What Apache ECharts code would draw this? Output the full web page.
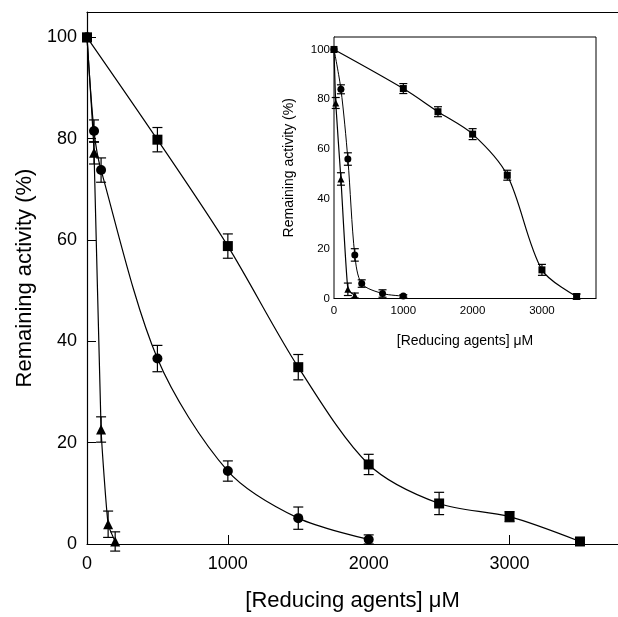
<!DOCTYPE html>
<html><head><meta charset="utf-8">
<script src="https://cdn.jsdelivr.net/npm/echarts@6/dist/echarts.min.js"></script>
<style>html,body{margin:0;padding:0;background:#fff}#c{width:618px;height:617px}</style>
</head><body><div id="c"></div>
<script>
// Main plot data
const mainSqX = [0, 500, 1000, 1500, 2000, 2500, 3000, 3500];
const mainSqY = [100, 79.8, 58.8, 34.9, 15.7, 8.0, 5.4, 0.5];
const mainSqE = [0, 2.4, 2.4, 2.5, 2.0, 2.2, 1.0, 0.4];
const mainCiX = [0, 50, 100, 500, 1000, 1500, 2000];
const mainCiY = [100, 81.5, 73.8, 36.6, 14.4, 5.1, 0.9];
const mainCiE = [0, 2.2, 2.4, 2.6, 2.0, 2.2, 0.9];
const mainTrX = [0, 50, 100, 150, 200];
const mainTrY = [100, 77.2, 22.6, 3.9, 0.5];
const mainTrE = [0, 2.2, 2.5, 2.6, 1.9];
// Inset data
const insSqX = [0, 1000, 1500, 2000, 2500, 3000, 3500];
const insSqY = [100, 84.3, 75.0, 66.0, 49.5, 11.5, 0.8];
const insSqE = [0, 2.0, 2.0, 2.2, 2.0, 2.2, 1.0];
const insCiX = [0, 100, 200, 300, 400, 700, 1000];
const insCiY = [100, 84.0, 56.0, 17.5, 6.0, 2.0, 1.0];
const insCiE = [0, 1.8, 2.5, 2.5, 1.5, 1.5, 0.5];
const insTrX = [0, 25, 100, 200, 300];
const insTrY = [100, 78.5, 48.0, 3.7, 1.2];
const insTrE = [0, 2.2, 2.5, 2.5, 1.0];
const xTicks = [0, 1000, 2000, 3000];
const yTicks = [0, 20, 40, 60, 80, 100];
const xTitle = '[Reducing agents] \u03bcM';
const yTitle = 'Remaining activity (%)';

const FONT = 'Liberation Sans, Arial, sans-serif';
const pts = (xs, ys) => xs.map((x, i) => [x, ys[i]]);
const errs = (xs, ys, es) => xs.map((x, i) => [x, ys[i] - es[i], ys[i] + es[i]]).filter((d, i) => es[i] > 0);

function errSeries(data, idx, cap) {
  return {
    type: 'custom', xAxisIndex: idx, yAxisIndex: idx, data: data, z: 3,
    renderItem: function (params, api) {
      const lo = api.coord([api.value(0), api.value(1)]);
      const hi = api.coord([api.value(0), api.value(2)]);
      const st = { stroke: '#000', lineWidth: 1.2 };
      return { type: 'group', children: [
        { type: 'line', shape: { x1: lo[0], y1: lo[1], x2: hi[0], y2: hi[1] }, style: st },
        { type: 'line', shape: { x1: lo[0] - cap, y1: lo[1], x2: lo[0] + cap, y2: lo[1] }, style: st },
        { type: 'line', shape: { x1: hi[0] - cap, y1: hi[1], x2: hi[0] + cap, y2: hi[1] }, style: st }
      ]};
    }
  };
}
function lineSeries(data, idx, symbol, size, lw, sm) {
  return {
    type: 'line', xAxisIndex: idx, yAxisIndex: idx, data: data, smooth: sm,
    symbol: symbol, symbolSize: size, showAllSymbol: true,
    lineStyle: { color: '#000', width: lw }, itemStyle: { color: '#000' }, z: 4
  };
}
const fmt = v => (xTicks.indexOf(v) >= 0 ? String(v) : '');
const fmtY = v => (yTicks.indexOf(v) >= 0 ? String(v) : '');

const chart = echarts.init(document.getElementById('c'), null, { renderer: 'canvas' });
chart.setOption({
  animation: false,
  backgroundColor: '#fff',
  grid: [
    { left: 87, top: 12, right: 0, bottom: 70 },
    { left: 334, top: 37, right: 22, bottom: 318.5, show: true, borderColor: '#000', borderWidth: 1, backgroundColor: '#fff', z: 5 }
  ],
  xAxis: [
    { type: 'value', gridIndex: 0, min: 0, max: 3770, interval: 1000,
      name: xTitle, nameLocation: 'middle', nameGap: 46,
      nameTextStyle: { fontFamily: FONT, fontSize: 22, color: '#000' },
      axisLine: { lineStyle: { color: '#000', width: 1.2 } },
      axisTick: { inside: true, length: 9, lineStyle: { color: '#000' } },
      axisLabel: { formatter: fmt, fontFamily: FONT, fontSize: 18, color: '#000', margin: 11, showMaxLabel: false },
      splitLine: { show: false } },
    { type: 'value', gridIndex: 1, min: 0, max: 3780, interval: 1000,
      name: xTitle, nameLocation: 'middle', nameGap: 36,
      nameTextStyle: { fontFamily: FONT, fontSize: 14, color: '#000' },
      axisLine: { lineStyle: { color: '#000', width: 1 } },
      axisTick: { inside: true, length: 5, lineStyle: { color: '#000' } },
      axisLabel: { formatter: fmt, fontFamily: FONT, fontSize: 11.5, color: '#000', margin: 6, showMaxLabel: false },
      splitLine: { show: false } },
    { type: 'value', gridIndex: 0, position: 'top', min: 0, max: 3770,
      axisLine: { lineStyle: { color: '#000', width: 1.2 } },
      axisTick: { show: false }, axisLabel: { show: false }, splitLine: { show: false } }
  ],
  yAxis: [
    { type: 'value', gridIndex: 0, min: 0, max: 105, interval: 20,
      name: yTitle, nameLocation: 'middle', nameGap: 46, nameRotate: 90,
      nameTextStyle: { fontFamily: FONT, fontSize: 22, color: '#000' },
      axisLine: { show: true, lineStyle: { color: '#000', width: 1.2 } },
      axisTick: { show: true, inside: true, length: 9, lineStyle: { color: '#000' } },
      axisLabel: { formatter: fmtY, fontFamily: FONT, fontSize: 18, color: '#000', margin: 10, showMaxLabel: false },
      splitLine: { show: false } },
    { type: 'value', gridIndex: 1, min: 0, max: 105, interval: 20,
      name: yTitle, nameLocation: 'middle', nameGap: 38, nameRotate: 90,
      nameTextStyle: { fontFamily: FONT, fontSize: 14, color: '#000' },
      axisLine: { show: true, lineStyle: { color: '#000', width: 1 } },
      axisTick: { show: true, inside: true, length: 5, lineStyle: { color: '#000' } },
      axisLabel: { formatter: fmtY, fontFamily: FONT, fontSize: 11.5, color: '#000', margin: 4, showMaxLabel: false },
      splitLine: { show: false } }
  ],
  series: [
    lineSeries(pts(mainTrX, mainTrY), 0, 'triangle', 10, 1.2, 0.15),
    lineSeries(pts(mainCiX, mainCiY), 0, 'circle', 10, 1.2, 0.3),
    lineSeries(pts(mainSqX, mainSqY), 0, 'rect', 10, 1.2, 0.3),
    errSeries(errs(mainTrX, mainTrY, mainTrE), 0, 5),
    errSeries(errs(mainCiX, mainCiY, mainCiE), 0, 5),
    errSeries(errs(mainSqX, mainSqY, mainSqE), 0, 5),
    Object.assign(lineSeries(pts(insTrX, insTrY), 1, 'triangle', 7, 1.2, 0.15), { z: 8 }),
    Object.assign(lineSeries(pts(insCiX, insCiY), 1, 'circle', 7, 1, 0.3), { z: 8 }),
    Object.assign(lineSeries(pts(insSqX, insSqY), 1, 'rect', 7, 1.2, 0.3), { z: 8 }),
    Object.assign(errSeries(errs(insTrX, insTrY, insTrE), 1, 4), { z: 7 }),
    Object.assign(errSeries(errs(insCiX, insCiY, insCiE), 1, 4), { z: 7 }),
    Object.assign(errSeries(errs(insSqX, insSqY, insSqE), 1, 4), { z: 7 })
  ]
});
</script></body></html>
